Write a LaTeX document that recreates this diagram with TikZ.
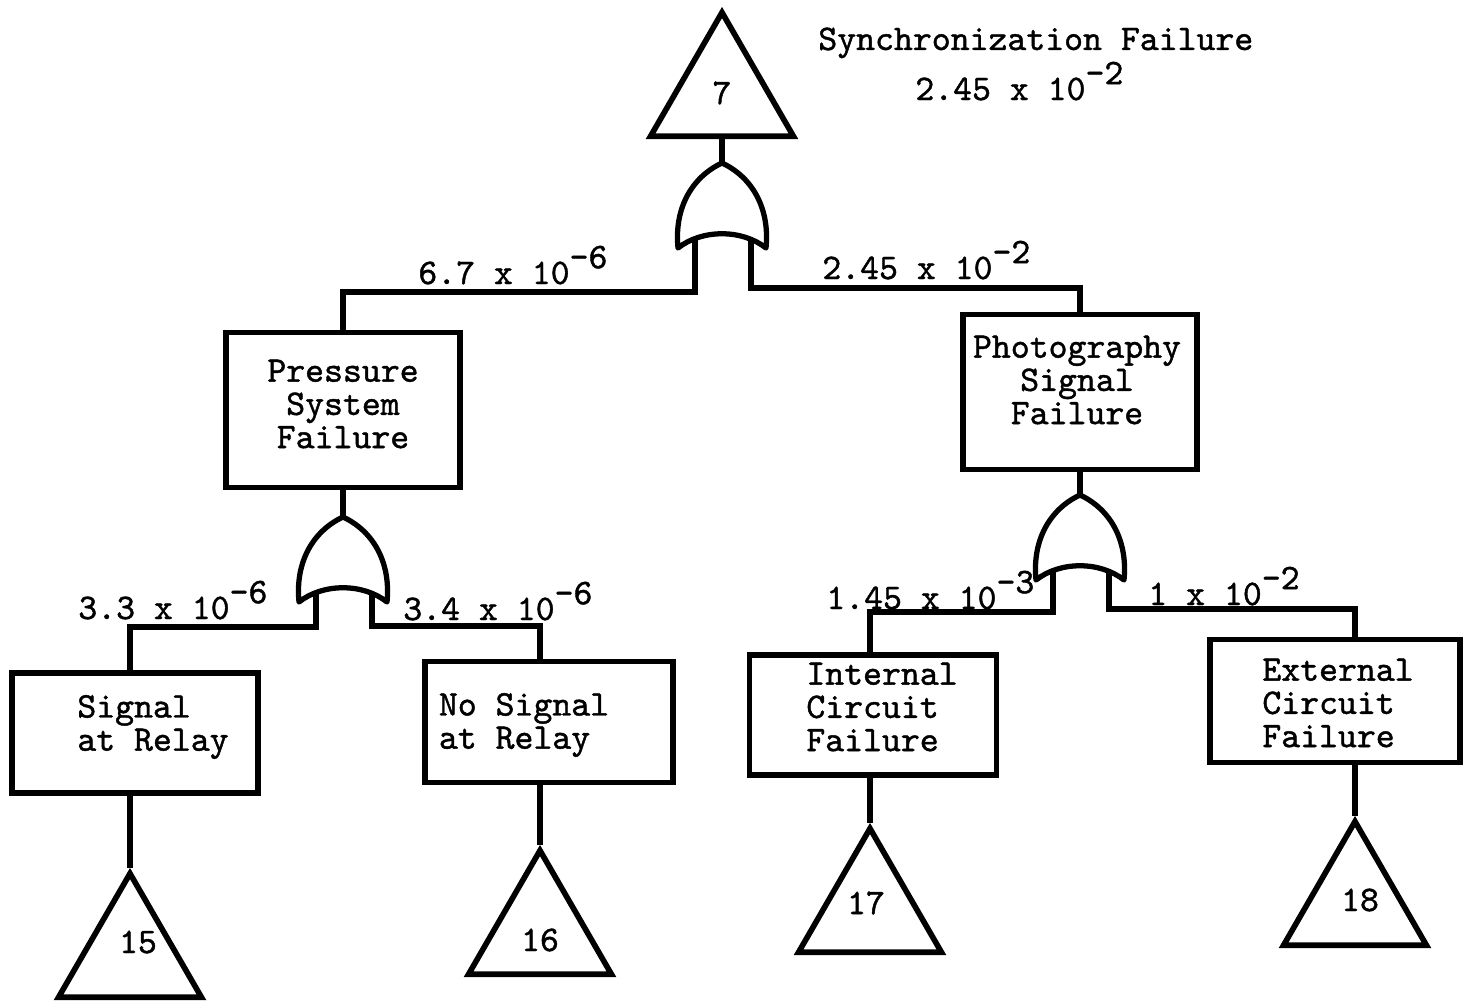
\documentclass[tikz,border=0pt]{standalone}
\usepackage{fontspec}
\usetikzlibrary{shapes.geometric}

\newfontfamily\typer{lmmono10-regular.otf}[FakeBold=1.2]
\newcommand{\tw}{\typer\fontsize{20.5pt}{18.9pt}\selectfont}
\newcommand{\tenpow}[1]{\raisebox{9pt}{#1}}

\tikzset{
  event/.style={draw, rectangle, line width=3.2pt, inner sep=0pt},
  xfer/.style={draw, regular polygon, regular polygon sides=3, minimum size=3.3cm,
               inner sep=0pt, line width=3.2pt},
  txt/.style={font=\tw, inner sep=0pt},
  prob/.style={txt, anchor=base west},
  wire/.style={line width=3pt},
  orgate/.pic={
    \draw[line width=3pt, line join=round]
      (0,0) .. controls (-30,14) and (-48,45) .. (-44,85)
            .. controls (-20,66) and (20,66) .. (44,85)
            .. controls (48,45) and (30,14) .. (0,0) -- cycle;
    \coordinate (-top) at (0,0);
    \coordinate (-a) at (-27,75);
    \coordinate (-b) at (29,75);
  }
}

\begin{document}
\begin{tikzpicture}[x=0.02cm, y=-0.02cm]
    \useasboundingbox (0,0) rectangle (1465,1004);

    % Top event
    \node [xfer, label={[txt, shift={(0,-2)}]center:7}] (t7) at (722,95) {};
    \node [prob] (title) at (818,50) {Synchronization Failure};
    \node [prob] (titlep) at (915,100) {2.45 x 10\tenpow{-2}};

    % Gates
    \pic (g1) at (722,163) {orgate};
    \pic (g2) at (343,517) {orgate};
    \pic (g3) at (1080,495) {orgate};

    % Events
    \node [event, minimum width=4.68cm, minimum height=3.1cm,
           label={[txt, align=center, shift={(0,-6)}]center:{Pressure\\System\\Failure}}]
          (psf) at (343,410) {};
    \node [event, minimum width=4.68cm, minimum height=3.1cm,
           label={[txt, align=center, shift={(-3,-12)}]center:{Photography\\Signal\\Failure}}]
          (phs) at (1080,392) {};
    \node [event, minimum width=4.92cm, minimum height=2.4cm,
           label={[txt, align=left, shift={(18,-6)}]center:{Signal\\at Relay}}]
          (sar) at (135,733) {};
    \node [event, minimum width=4.96cm, minimum height=2.42cm,
           label={[txt, align=left, shift={(-25,3)}]center:{No Signal\\at Relay}}]
          (nsr) at (549,722) {};
    \node [event, minimum width=4.94cm, minimum height=2.4cm,
           label={[txt, align=left, shift={(9,-8)}]center:{Internal\\Circuit\\Failure}}]
          (icf) at (873,715) {};
    \node [event, minimum width=5cm, minimum height=2.46cm,
           label={[txt, align=left, shift={(3,2)}]center:{External\\Circuit\\Failure}}]
          (ecf) at (1335,701) {};

    % Transfers
    \node [xfer, label={[txt, shift={(8,-14)}]center:15}] (t15) at (130,956) {};
    \node [xfer, label={[txt, shift={(0,7)}]center:16}] (t16) at (540,933) {};
    \node [xfer, label={[txt, shift={(-4,-8)}]center:17}] (t17) at (870,911) {};
    \node [xfer, label={[txt, shift={(5,-4)}]center:18}] (t18) at (1355,904) {};

    % Paths
    \draw [wire] (t7.south) -- (g1-top);
    \draw [wire] (g1-a) -- ++(0,54) -| (psf.north);
    \draw [wire] (g1-b) -- ++(0,50) -| (phs.north);

    \draw [wire] (psf.south) -- (g2-top);
    \draw [wire] (g2-a) -- ++(0,35) -| (sar.north -| t15.north);
    \draw [wire] (g2-b) -- ++(0,34) -| (nsr.north -| t16.north);

    \draw [wire] (phs.south) -- (g3-top);
    \draw [wire] (g3-a) -- ++(0,42) -| (icf.north -| t17.north);
    \draw [wire] (g3-b) -- ++(0,39) -| (ecf.north -| t18.north);

    \draw [wire] (sar.south -| t15.north) -- (t15.north);
    \draw [wire] (nsr.south -| t16.north) -- (t16.north);
    \draw [wire] (icf.south -| t17.north) -- (t17.north);
    \draw [wire] (ecf.south -| t18.north) -- (t18.north);

    % Probabilities
    \node [prob] (p1) at (418,284) {6.7 x 10\tenpow{-6}};
    \node [prob] (p2) at (822,279) {2.45 x 10\tenpow{-2}};
    \node [prob] (p3) at (78,619)  {3.3 x 10\tenpow{-6}};
    \node [prob] (p4) at (403,620) {3.4 x 10\tenpow{-6}};
    \node [prob] (p5) at (826,609) {1.45 x 10\tenpow{-3}};
    \node [prob] (p6) at (1148,605) {1 x 10\tenpow{-2}};
\end{tikzpicture}
\end{document}
